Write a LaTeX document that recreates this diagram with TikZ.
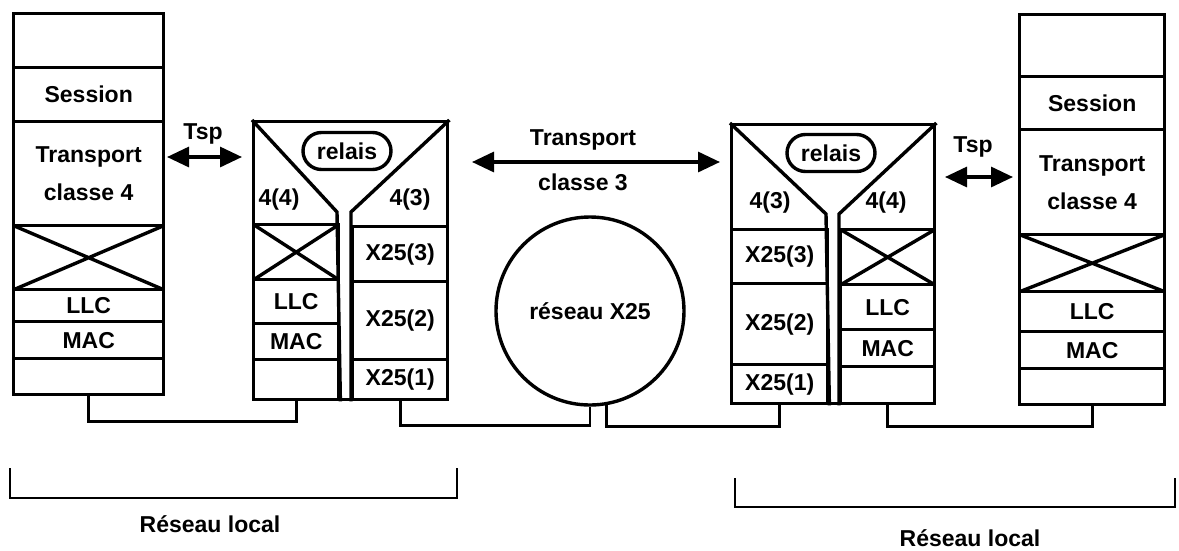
\documentclass[tikz,border=0pt]{standalone}
\usepackage{fontspec}
\setmainfont{Liberation Sans}
\usepackage{tikz}
\usetikzlibrary{arrows.meta, positioning, calc, shapes.misc}

\begin{document}
\begin{tikzpicture}[x=1pt, y=-1pt,
      every node/.style={font=\fontsize{23}{38}\selectfont\bfseries, inner sep=0pt},
      cell/.style 2 args={draw, line width=3.4pt, anchor=north west, minimum width=#1, minimum height=#2, align=center},
      crossed/.style={path picture={\draw[line width=3.4pt] (path picture bounding box.north west) -- (path picture bounding box.south east)
        (path picture bounding box.south west) -- (path picture bounding box.north east);}},
      relais/.style={draw, line width=3.4pt, rounded rectangle, minimum width=88, minimum height=37, fill=white},
      funnel/.style={line width=3.4pt, line join=miter},
      link/.style={line width=2.8pt},
      dbl/.style={{Triangle[length=22pt,width=20pt]}-{Triangle[length=22pt,width=20pt]}, line width=3.2pt},
      brk/.style={line width=2.8pt},
    ]
    \useasboundingbox (0,0) rectangle (1179,550);
    % station gauche
    \node[cell={150}{54}] (s1top) at (12,12) {};
    \node[cell={150}{54}] (s1ses) at (12,66) {Session};
    \node[cell={150}{104}] (s1tr) at (12,120) {Transport\\classe 4};
    \node[cell={150}{64}, crossed] (s1x) at (12,224) {};
    \node[cell={150}{32}] (s1llc) at (12,288) {LLC};
    \node[cell={150}{37}] (s1mac) at (12,320) {MAC};
    \node[cell={150}{36}] (s1e) at (12,357) {};
    % relais gauche
    \node[draw, line width=3.4pt, anchor=north west, minimum width=194, minimum height=278] (b2) at (252,120) {};
    \node[cell={85}{55}, crossed] (b2lx) at (252,223) {};
    \node[cell={85}{44}] (b2llc) at (252,278) {LLC};
    \node[cell={85}{36}] (b2mac) at (252,322) {MAC};
    \node[cell={85}{40}] (b2le) at (252,358) {};
    \node[cell={95}{55}] (b2r3) at (351,225) {X25(3)};
    \node[cell={95}{78}] (b2r2) at (351,280) {X25(2)};
    \node[cell={95}{40}] (b2r1) at (351,358) {X25(1)};
    \draw[funnel] (b2.north west) -- (337,212) -- (b2le.south east);
    \draw[funnel] (b2.north east) -- (351,212) -- (b2r1.south west);
    \node[relais] (b2rel) at (347,151) {relais};
    \node (b2l4) at (279,200) {4(4)};
    \node (b2r4) at (410,200) {4(3)};
    % reseau X25
    \node[draw, circle, line width=3.4pt, minimum size=188] (x25) at (590,311) {réseau X25};
    % relais droit
    \node[draw, line width=3.4pt, anchor=north west, minimum width=203, minimum height=279] (b3) at (730,123) {};
    \node[cell={96}{54}] (b3l3) at (730,228) {X25(3)};
    \node[cell={96}{81}] (b3l2) at (730,282) {X25(2)};
    \node[cell={96}{39}] (b3l1) at (730,363) {X25(1)};
    \node[cell={94}{55}, crossed] (b3rx) at (839,228) {};
    \node[cell={94}{45}] (b3llc) at (839,283) {LLC};
    \node[cell={94}{37}] (b3mac) at (839,328) {MAC};
    \node[cell={94}{37}] (b3re) at (839,365) {};
    \draw[funnel] (b3.north west) -- (826,214) -- (b3l1.south east);
    \draw[funnel] (b3.north east) -- (839,214) -- (b3re.south west);
    \node[relais] (b3rel) at (831,153) {relais};
    \node (b3l4) at (770,203) {4(3)};
    \node (b3r4) at (886,203) {4(4)};
    % station droite
    \node[cell={145}{62}] (s2top) at (1018,13) {};
    \node[cell={145}{53}] (s2ses) at (1018,75) {Session};
    \node[cell={145}{105}] (s2tr) at (1018,128) {Transport\\classe 4};
    \node[cell={145}{57}, crossed] (s2x) at (1018,233) {};
    \node[cell={145}{40}] (s2llc) at (1018,290) {LLC};
    \node[cell={145}{37}] (s2mac) at (1018,330) {MAC};
    \node[cell={145}{36}] (s2e) at (1018,367) {};
    % liaisons
    \draw[link] (s1e.south) -- ++(0,25) -| (b2le.south);
    \draw[link] (b2r1.south) -- ++(0,24) -| (x25.-90);
    \draw[link] (b3l1.south) -- ++(0,21) -| (x25.-80);
    \draw[link] (b3re.south) -- ++(0,21) -| (s2e.south);
    % protocoles
    \coordinate (tsp1a) at (167,157);
    \coordinate (tsp1b) at (242,157);
    \draw[dbl] (tsp1a) -- (tsp1b);
    \node (tsp1) at (203,134) {Tsp};
    \coordinate (tr3a) at (472,162);
    \coordinate (tr3b) at (720,162);
    \draw[dbl] (tr3a) -- (tr3b);
    \node (tr3) at (583,140) {Transport};
    \node (cl3) at (583,182) {classe 3};
    \coordinate (tsp2a) at (945,177);
    \coordinate (tsp2b) at (1013,177);
    \draw[dbl] (tsp2a) -- (tsp2b);
    \node (tsp2) at (973,147) {Tsp};
    % reseaux locaux
    \draw[brk] (10,468) |- (457,498) -- (457,468);
    \node (rl1) at (210,524) {Réseau local};
    \draw[brk] (735,478) |- (1175,507) -- (1175,478);
    \node (rl2) at (970,538) {Réseau local};
  \end{tikzpicture}
\end{document}
